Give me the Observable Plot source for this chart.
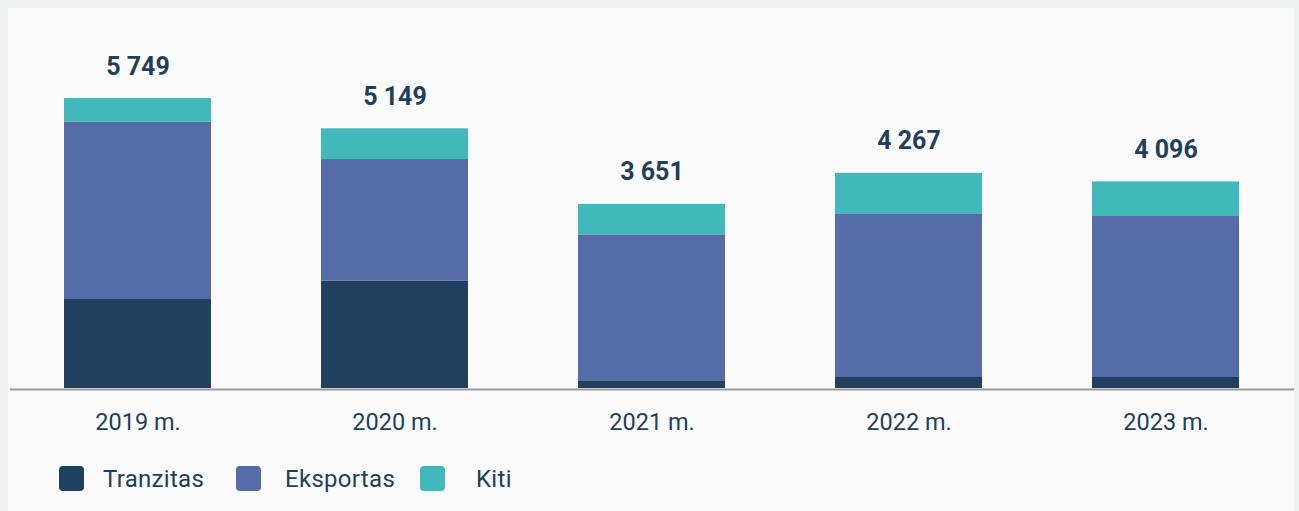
<!DOCTYPE html>
<html>
<head>
<meta charset="utf-8">
<script src="https://cdn.jsdelivr.net/npm/d3@7"></script>
<script src="https://cdn.jsdelivr.net/npm/@observablehq/plot@0.6"></script>
<style>
  html, body { margin: 0; padding: 0; background: #eef0ef; }
  #panel { position: absolute; left: 8px; top: 8px; width: 1286px; height: 503px; background: #fafafa; font-family: Roboto, sans-serif; color: #1f3f5c; }
  #chart svg { display: block; background: transparent; }
  #legend { position: absolute; left: 0; top: 458px; width: 600px; height: 25px; font-size: 24px; color: #1f3f5c; }
  .sw { position: absolute; top: 0; width: 25px; height: 25px; border-radius: 4px; }
  .lt { position: absolute; top: 12.5px; transform: translateY(-50%); line-height: 1; letter-spacing: 0.3px; white-space: nowrap; }
</style>
</head>
<body>
<div id="panel">
  <div id="chart"></div>
  <div id="legend"></div>
</div>
<script>
const years = ["2019 m.", "2020 m.", "2021 m.", "2022 m.", "2023 m."];
const tranzitas = [1764, 2127, 153, 218, 218];
const eksportas = [3516, 2413, 2894, 3232, 3192];
const kiti = [469, 609, 604, 817, 686];
const totals = [5749, 5149, 3651, 4267, 4096];
const seriesNames = ["Tranzitas", "Eksportas", "Kiti"];
const seriesColors = ["#1f405e", "#566ca8", "#41b9bb"];

const seriesValues = [tranzitas, eksportas, kiti];
const rows = [];
years.forEach((y, i) => {
  seriesNames.forEach((s, j) => rows.push({year: y, series: s, value: seriesValues[j][i]}));
});
const totalRows = years.map((y, i) => ({year: y, total: totals[i]}));

const fmt = d3.formatLocale({decimal: ",", thousands: " ", grouping: [3], currency: ["", ""]}).format(",d");

const chart = Plot.plot({
  width: 1286,
  height: 450,
  marginLeft: 2,
  marginRight: 0,
  marginTop: 0,
  marginBottom: 70,
  style: {fontFamily: "Roboto, sans-serif", color: "#1f3f5c", background: "transparent"},
  x: {domain: years, paddingInner: 0.428, paddingOuter: 0.212, label: null},
  y: {domain: [0, 7534], axis: null},
  color: {domain: seriesNames, range: seriesColors},
  marks: [
    Plot.barY(rows, Plot.stackY({x: "year", y: "value", fill: "series", order: seriesNames})),
    Plot.ruleY([0], {stroke: "#9a9a9a", strokeWidth: 2, dy: 1}),
    Plot.text(totalRows, {x: "year", y: "total", text: d => fmt(d.total), lineAnchor: "bottom", dy: -24, fontSize: 25, fontWeight: 700, fill: "#1f3f5c"}),
    Plot.axisX({tickSize: 0, tickPadding: 25, fontSize: 23.5, label: null, fill: "#1f3f5c"})
  ]
});
document.getElementById("chart").appendChild(chart);

const legend = document.getElementById("legend");
const swatchLeft = [51, 228, 412];
const textLeft = [95, 277, 468];
seriesNames.forEach((s, j) => {
  const sw = document.createElement("div");
  sw.className = "sw";
  sw.style.background = seriesColors[j];
  sw.style.left = swatchLeft[j] + "px";
  const t = document.createElement("span");
  t.className = "lt";
  t.style.left = textLeft[j] + "px";
  t.textContent = s;
  legend.appendChild(sw);
  legend.appendChild(t);
});
</script>
</body>
</html>
